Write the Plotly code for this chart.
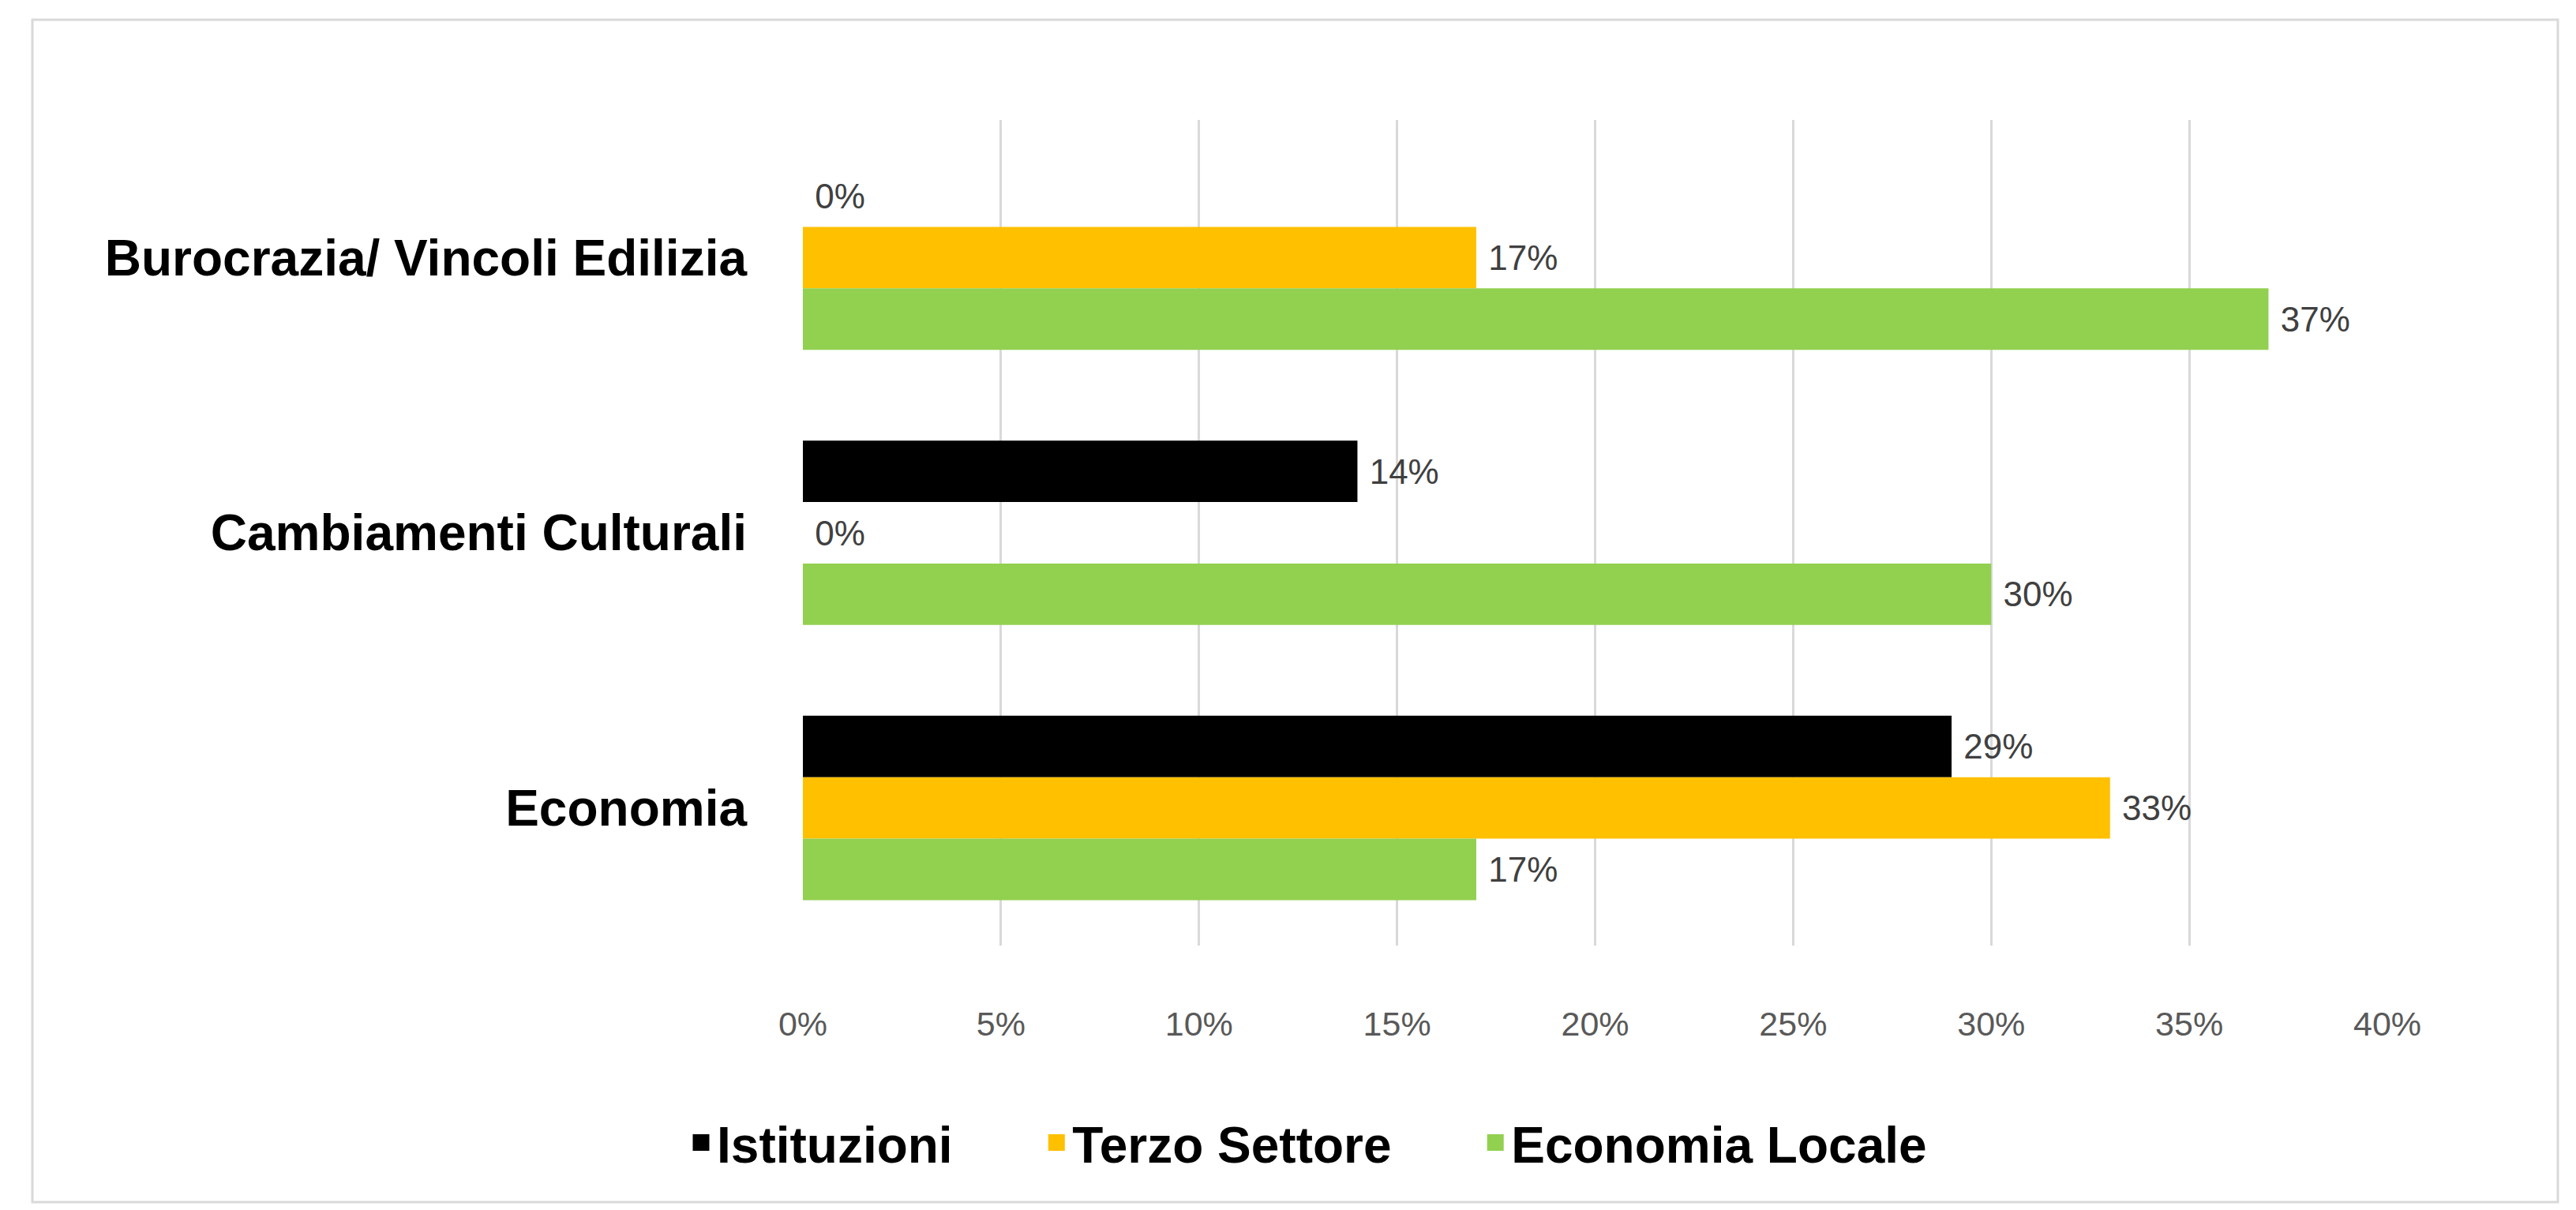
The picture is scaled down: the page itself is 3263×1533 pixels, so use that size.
import plotly.graph_objects as go

categories = ["Burocrazia/ Vincoli Edilizia", "Cambiamenti Culturali", "Economia"]
istituzioni = [0, 14, 29]
terzo_settore = [17, 0, 33]
economia_locale = [37, 30, 17]
series_names = ["Istituzioni", "Terzo Settore", "Economia Locale"]
series_colors = ["#000000", "#FFC000", "#92D050"]
tick_vals = [0, 5, 10, 15, 20, 25, 30, 35, 40]
tick_text = ["0%", "5%", "10%", "15%", "20%", "25%", "30%", "35%", "40%"]

W, H = 3263, 1533
ML, MR, MT, MB = 1009, 247, 144, 343
PW = W - ML - MR
PH = H - MT - MB
FONT = "Liberation Sans, Arial, sans-serif"
NB = "\u00a0"

fig = go.Figure()
for name, vals, col in zip(series_names, [istituzioni, terzo_settore, economia_locale], series_colors):
    fig.add_trace(go.Bar(
        y=categories, x=vals, name=name, orientation="h",
        marker=dict(color=col, line=dict(width=0)),
        text=[f"{NB}{v}%" for v in vals], textposition="outside",
        textfont=dict(family=FONT, size=44, color="#404040"),
        cliponaxis=False, showlegend=False,
    ))

# legend entries (square swatches)
for i, (name, col) in enumerate(zip(series_names, series_colors)):
    pad = NB * 6 if i < len(series_names) - 1 else ""
    fig.add_trace(go.Scatter(
        x=[None], y=[None], mode="markers", name=name + pad,
        marker=dict(symbol="square", size=16, color=col, line=dict(color=col, width=5)),
        showlegend=True,
    ))

fig.update_layout(
    width=W, height=H,
    margin=dict(l=ML, r=MR, t=MT, b=MB),
    paper_bgcolor="white", plot_bgcolor="white",
    barmode="group", bargap=0.33, bargroupgap=0,
    font=dict(family=FONT),
    xaxis=dict(
        range=[0, 40], tickvals=tick_vals, ticktext=tick_text,
        showgrid=True, gridcolor="#D9D9D9", gridwidth=3,
        zeroline=False, showline=False, ticks="",
        tickfont=dict(family=FONT, size=43, color="#595959"),
        ticklabelstandoff=70,
    ),
    yaxis=dict(
        autorange="reversed", showgrid=False, zeroline=False, showline=False, ticks="",
        tickfont=dict(family=FONT, size=64, color="#000000", weight="bold"),
        ticklabelstandoff=70,
    ),
    legend=dict(
        orientation="h", x=(1649 - ML) / PW, xanchor="center",
        y=-(1440 - (H - MB)) / PH, yanchor="middle",
        font=dict(family=FONT, size=64, color="#000000", weight="bold"),
        traceorder="normal", itemsizing="trace", itemwidth=30,
    ),
    showlegend=True,
)

# outer chart frame
fig.add_shape(
    type="rect", xref="paper", yref="paper",
    x0=(33 - ML) / PW, x1=(3232 - ML) / PW,
    y0=-(1515 - (H - MB)) / PH, y1=1 + (MT - 17) / PH,
    line=dict(color="#D9D9D9", width=3), fillcolor="rgba(0,0,0,0)", layer="below",
)

fig.write_html("out.html")
